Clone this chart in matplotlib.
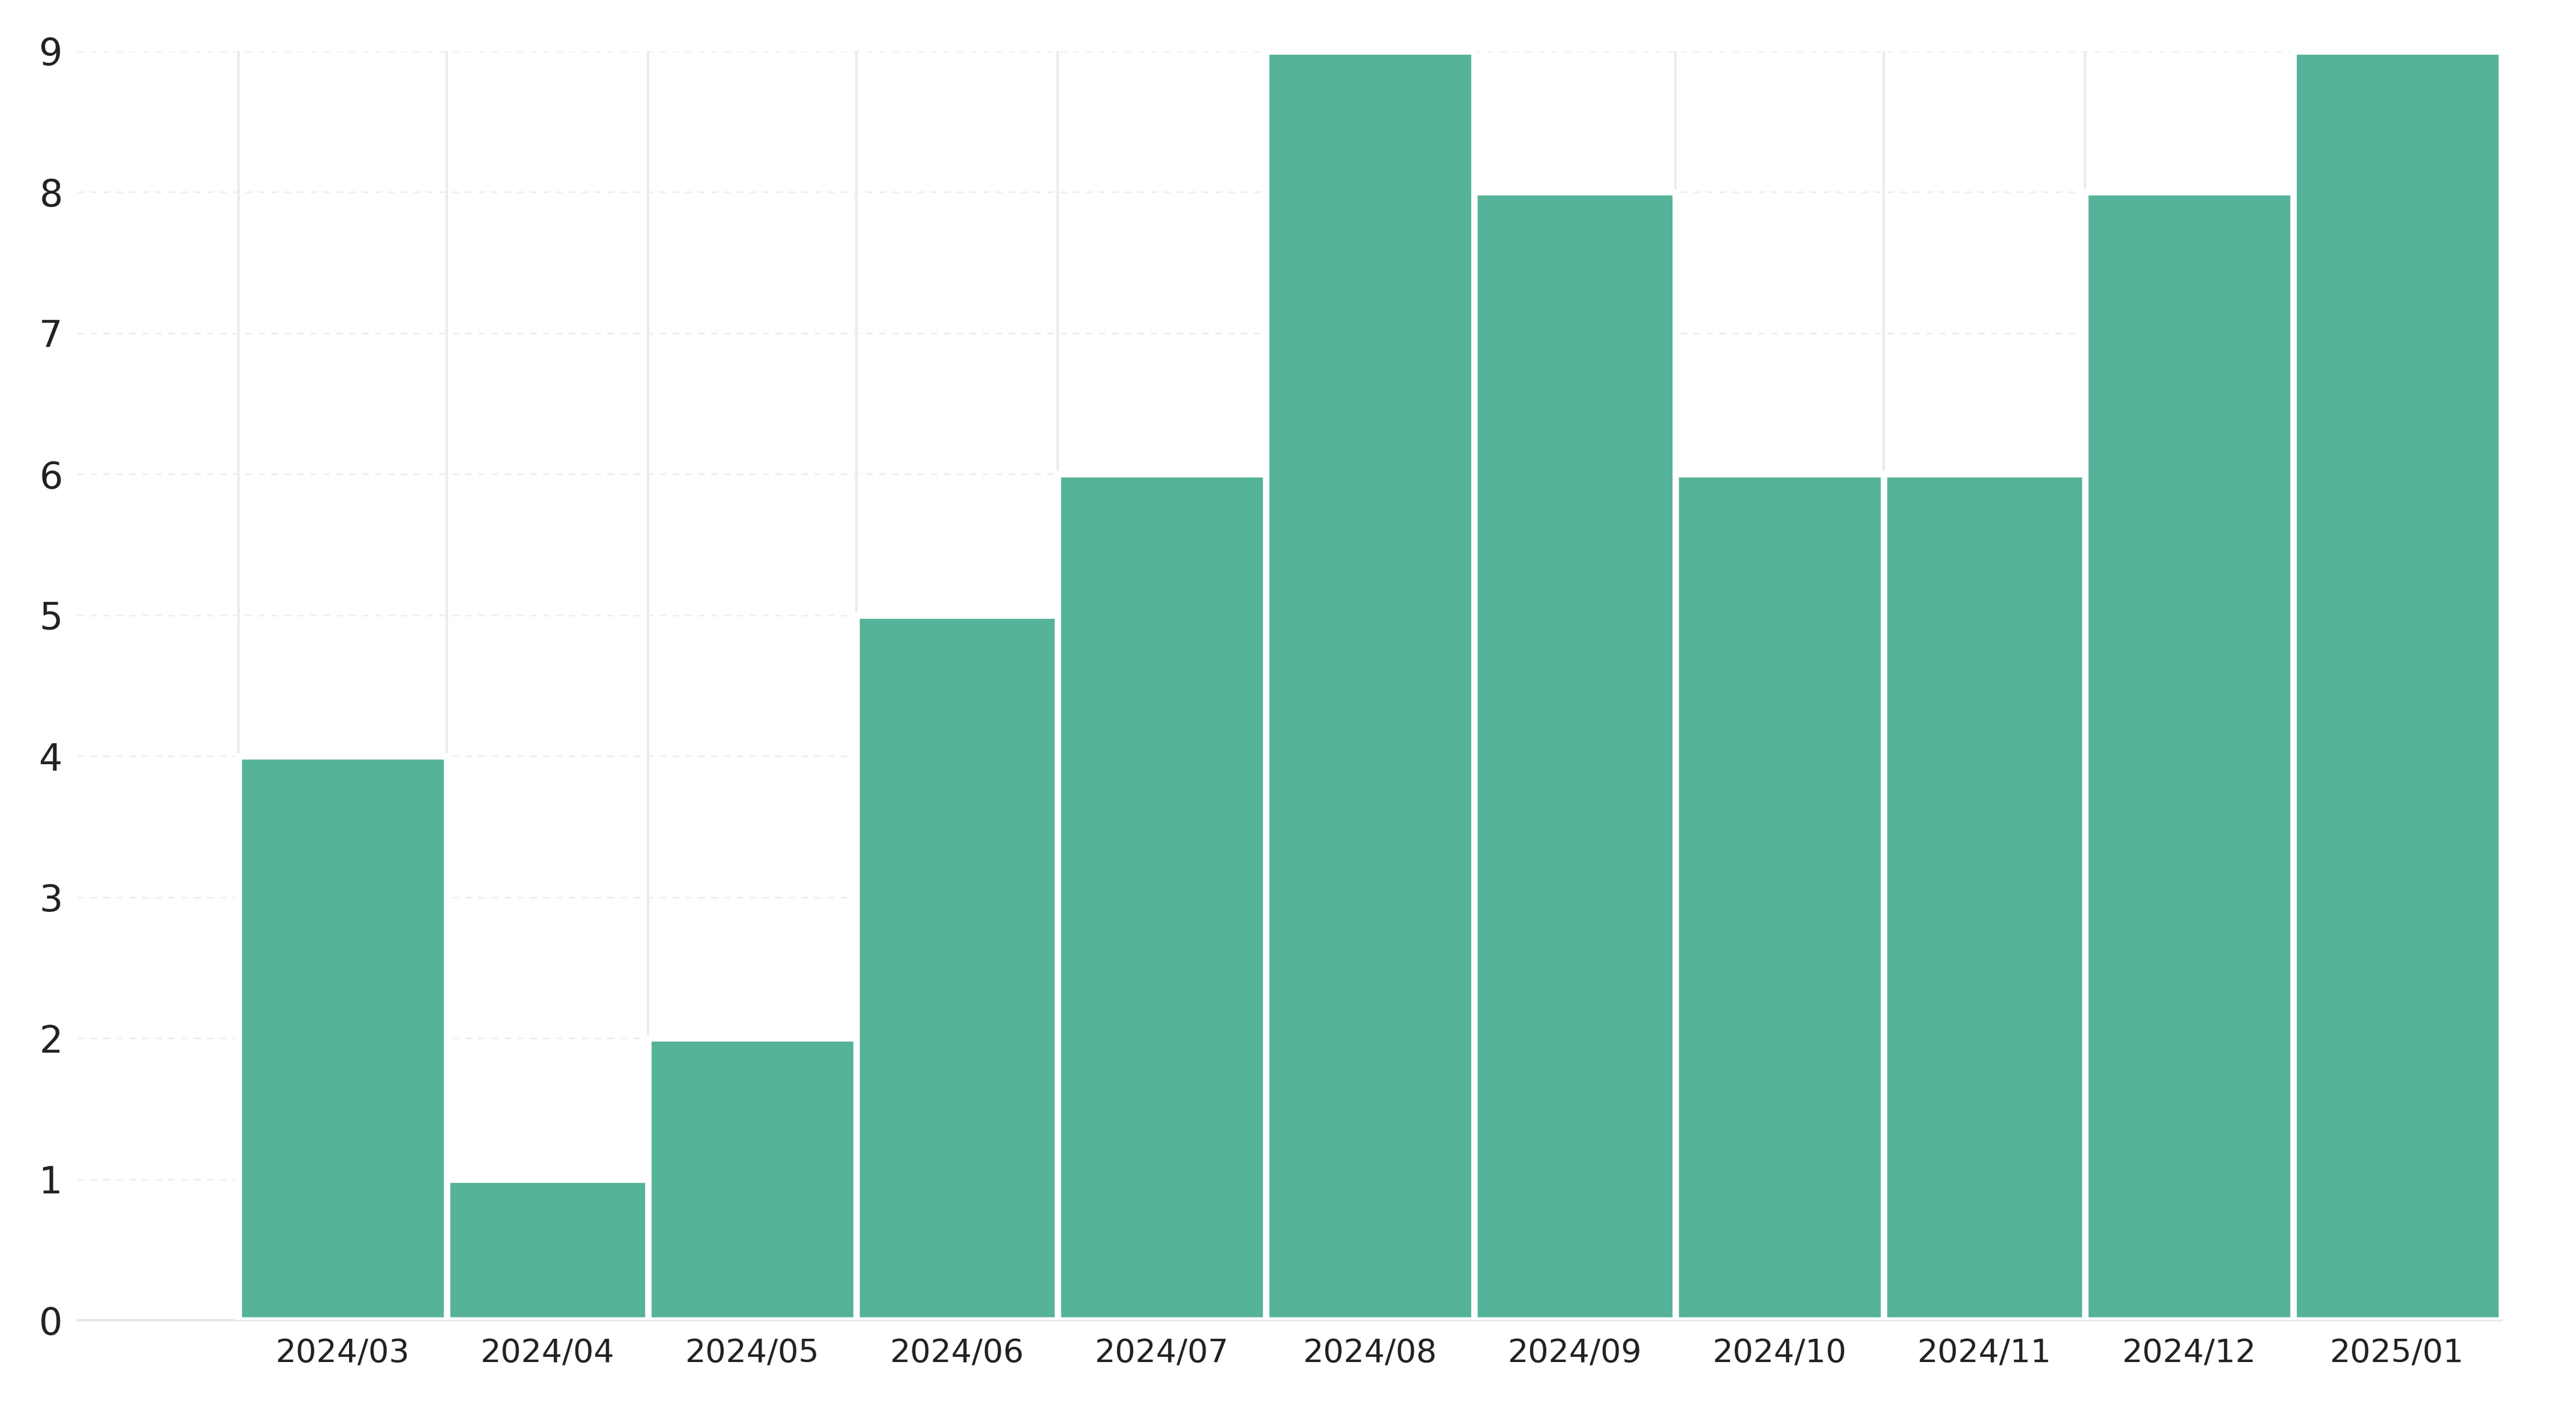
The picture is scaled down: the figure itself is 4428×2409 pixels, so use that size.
import matplotlib
matplotlib.use("Agg")
import matplotlib.pyplot as plt
import matplotlib.dates as mdates
import datetime as dt

months = ["2024-03","2024-04","2024-05","2024-06","2024-07","2024-08","2024-09","2024-10","2024-11","2024-12","2025-01"]
labels = ["2024/03","2024/04","2024/05","2024/06","2024/07","2024/08","2024/09","2024/10","2024/11","2024/12","2025/01"]
values = [4,1,2,5,6,9,8,6,6,8,9]

def nxt(d):
    return dt.date(d.year + (d.month == 12), d.month % 12 + 1, 1)

starts = [dt.date(int(m[:4]), int(m[5:]), 1) for m in months]
ends = [nxt(s) for s in starts]
s_num = mdates.date2num(starts)
e_num = mdates.date2num(ends)

fig = plt.figure(figsize=(44.28, 24.09), dpi=100)
ax = fig.add_axes([0.030, 0.0576, 0.941, 0.906])
ax.bar(s_num, values, width=e_num - s_num, align="edge", color="#55b399",
       edgecolor="white", linewidth=8, zorder=3)
ax.set_xlim(mdates.date2num(dt.date(2024, 2, 6)), mdates.date2num(dt.date(2025, 2, 1)))
ax.set_ylim(0, 9)
ax.set_yticks(range(10))
ax.set_xticks((s_num + e_num) / 2)
ax.set_xticklabels(labels)
for x in s_num:
    ax.axvline(x, color="#ebebeb", linewidth=3, zorder=1)
for y in range(1, 10):
    ax.axhline(y, color="#eeeeee", linewidth=2, linestyle=(0, (4, 4)), zorder=1)
for sp in ["top", "right", "left"]:
    ax.spines[sp].set_visible(False)
ax.spines["bottom"].set_color("#e6e6e6")
ax.spines["bottom"].set_linewidth(3)
ax.tick_params(axis="y", length=0, labelsize=46, pad=18, labelcolor="#222222")
ax.tick_params(axis="x", length=0, labelsize=40, pad=22, labelcolor="#222222")
fig.savefig("out.png", dpi=100, facecolor="white")
